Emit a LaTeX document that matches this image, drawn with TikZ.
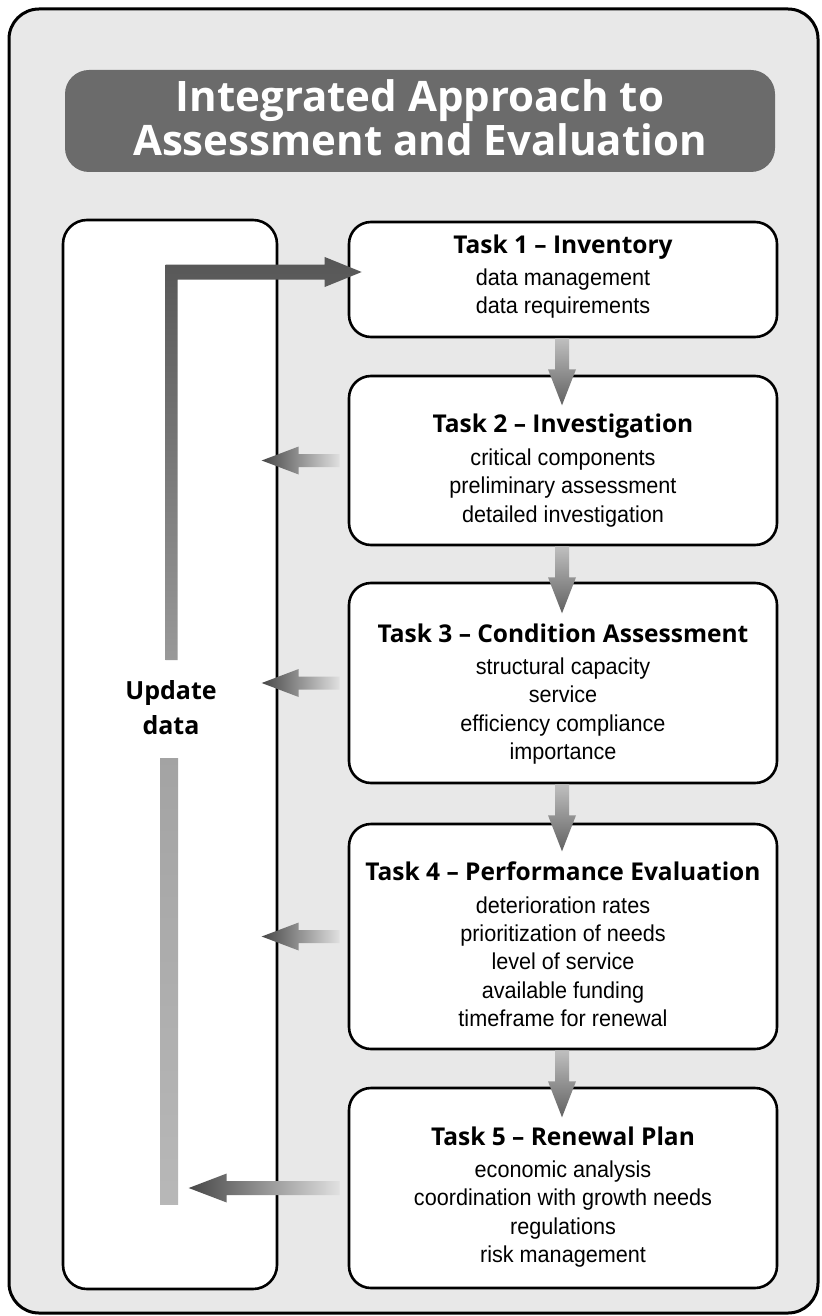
\documentclass[tikz,border=0pt]{standalone}
\usepackage{fontspec}
\setmainfont{Open Sans}
\newfontfamily\bodyfont{Liberation Sans}[FakeStretch=0.94]
\newcommand\taskhead{\rmfamily\bfseries\fontsize{12.25}{14}\selectfont}
\usetikzlibrary{calc}
\begin{document}
\begin{tikzpicture}[x=0.5pt,y=-0.5pt,
  frame/.style={draw=black, line width=1.5pt, rounded corners=15pt, fill=black!9},
  titlebox/.style={fill=black!58, rounded corners=12pt, minimum width=355pt, minimum height=51pt,
    inner sep=0pt},
  titletext/.style={align=center, text=white, inner sep=0pt,
    font=\bfseries\fontsize{21}{22}\selectfont},
  taskbox/.style={draw=black, line width=1.3pt, rounded corners=11pt, fill=white,
    minimum width=214pt, inner sep=0pt},
  tasktext/.style={align=center, inner sep=0pt,
    font=\bodyfont\fontsize{11.5}{14.2}\selectfont},
  updbox/.style={draw=black, line width=1.3pt, rounded corners=12pt, fill=white,
    minimum width=107pt, minimum height=534.5pt, inner sep=0pt},
  updtext/.style={align=center, font=\bfseries\fontsize{12.5}{17.5}\selectfont},
  downarrow/.style={top color=black!25, bottom color=black!62},
  leftarrow/.style={left color=black!72, right color=black!12},
  toparrow/.style={top color=black!66, bottom color=black!40}
]
\useasboundingbox (0,0) rectangle (821,1316);
\path[frame] (9,9) rectangle (818,1313);

\node[titlebox] (title) at (420,121) {};
\node[titletext] (titletxt) at ($(title.center)+(0,-3)$) {Integrated Approach to\\Assessment and Evaluation};

\node[updbox] (ub) at (170,754.5) {};
\node[updtext] (upd) at (171,708) {Update\\data};

\node[taskbox, minimum height=57.5pt] (t1) at (563,279.5) {};
\node[taskbox, minimum height=84.5pt] (t2) at (563,460.5) {};
\node[taskbox, minimum height=100pt] (t3) at (563,683) {};
\node[taskbox, minimum height=112.5pt] (t4) at (563,936.5) {};
\node[taskbox, minimum height=100pt] (t5) at (563,1188) {};

\node[tasktext] (t1txt) at ($(t1.center)+(0,-3)$)
  {{\taskhead Task 1 – Inventory}\\[2pt] data management\\ data requirements};
\node[tasktext] (t2txt) at ($(t2.center)+(0,10)$)
  {{\taskhead Task 2 – Investigation}\\[2pt] critical components\\ preliminary assessment\\ detailed investigation};
\node[tasktext] (t3txt) at ($(t3.center)+(0,11)$)
  {{\taskhead Task 3 – Condition Assessment}\\[2pt] structural capacity\\ service\\ efficiency compliance\\ importance};
\node[tasktext] (t4txt) at ($(t4.center)+(0,8)$)
  {{\taskhead Task 4 – Performance Evaluation}\\[2pt] deterioration rates\\ prioritization of needs\\ level of service\\ available funding\\ timeframe for renewal};
\node[tasktext] (t5txt) at ($(t5.center)+(0,9)$)
  {{\taskhead Task 5 – Renewal Plan}\\[2pt] economic analysis\\ coordination with growth needs\\ regulations\\ risk management};

% top L-shaped arrow into Task 1
\coordinate (toptip) at ($(t1.west)+(14,-7.5)$);
\begin{scope}[shift={(toptip)}]
  \shade[toparrow] (0,0) -- (-37,-15) -- (-37,-7.5) -- (-196,-7.5) -- (-196,388)
    -- (-184,388) -- (-184,7.5) -- (-37,7.5) -- (-37,15) -- cycle;
\end{scope}
% lower part of the update bar
\coordinate (barA) at ($(upd.south)+(-5,16)$);
\coordinate (barB) at ($(ub.south)+(2,-86)$);
\shade[top color=black!36, bottom color=black!28] ($(barA)+(-6,0)$) rectangle ($(barB)+(6,0)$);

% down arrows
\foreach \s in {t1,t2,t3,t4}{
  \begin{scope}[shift={(\s.south)}]
    \shade[downarrow] (-8,0) -- (-8,31) -- (-15,31) -- (-1,67) -- (13,31) -- (6,31) -- (6,0) -- cycle;
  \end{scope}
}

% left arrows
\foreach \s in {t2,t3,t4}{
  \begin{scope}[shift={(\s.west)}]
    \shade[leftarrow] (-8,-6.5) -- (-49,-6.5) -- (-49,-14) -- (-86,0) -- (-49,14) -- (-49,6.5) -- (-8,6.5) -- cycle;
  \end{scope}
}
\begin{scope}[shift={(t5.west)}]
  \shade[leftarrow] (-8,-7) -- (-121,-7) -- (-121,-14.5) -- (-159,0) -- (-121,14.5) -- (-121,7) -- (-8,7) -- cycle;
\end{scope}
\end{tikzpicture}
\end{document}
